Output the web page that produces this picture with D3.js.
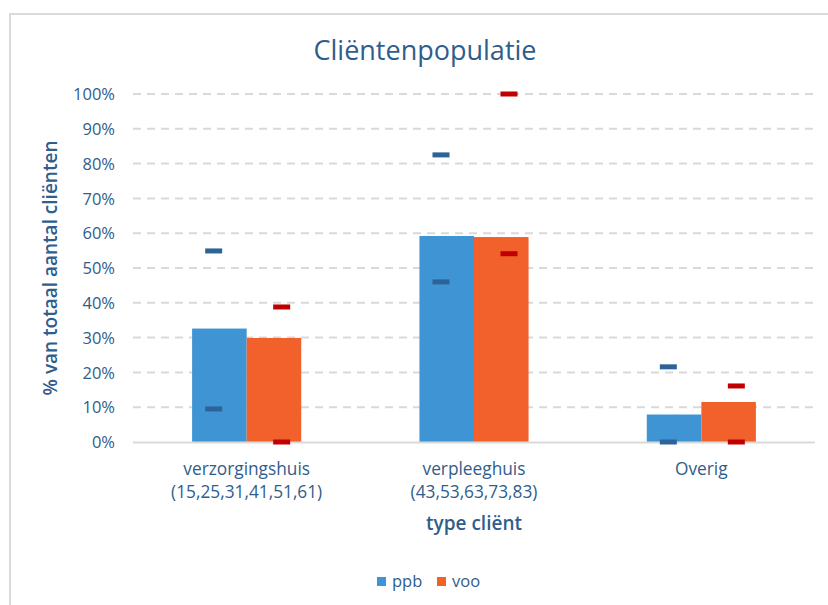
<!DOCTYPE html>
<html><head><meta charset="utf-8">
<script src="https://cdn.jsdelivr.net/npm/d3@7"></script>
<style>body{margin:0;background:#fff;} svg{display:block;} text{font-family:"Open Sans", Lato, sans-serif;}</style>
</head><body>
<svg id="c" width="828" height="605"></svg>
<script>
const categories = ["verzorgingshuis|(15,25,31,41,51,61)", "verpleeghuis|(43,53,63,73,83)", "Overig"];
const seriesNames = ["ppb", "voo"];
const ppbValues = [32.6, 59.2, 7.9];
const vooValues = [29.9, 58.9, 11.5];
const ppbMax = [54.9, 82.5, 21.6];
const ppbMin = [9.5, 46.0, 0];
const vooMax = [38.8, 100, 16.1];
const vooMin = [0, 54.1, 0];
const yTicks = [0,10,20,30,40,50,60,70,80,90,100];

const colors = {ppb:"#3F95D3", voo:"#F2612C"};
const markColors = {ppb:"#2D6396", voo:"#C00000"};
const textColor = "#2F5D8C";

const svg = d3.select("#c");
svg.append("rect").attr("x",10).attr("y",14).attr("width",830).attr("height",620)
  .attr("fill","none").attr("stroke","#d9d9d9").attr("stroke-width",2);

const L=133, R=815, T=94, B=442;
const x = d3.scaleBand().domain(categories).range([L,R]).paddingInner(0.52).paddingOuter(0.26);
const xs = d3.scaleBand().domain(seriesNames).range([0,x.bandwidth()]);
const y = d3.scaleLinear().domain([0,100]).range([B,T]);

// gridlines
svg.append("g").selectAll("line").data(yTicks.filter(d=>d>0)).join("line")
  .attr("x1",L).attr("x2",R).attr("y1",d=>y(d)).attr("y2",d=>y(d))
  .attr("stroke","#d9d9d9").attr("stroke-width",2).attr("stroke-dasharray","8,6");

// y axis labels
const yAxis = d3.axisLeft(y).tickValues(yTicks).tickFormat(d=>d+"%").tickSize(0).tickPadding(0);
const ga = svg.append("g").attr("transform",`translate(115,0)`).call(yAxis);
ga.select(".domain").remove();
ga.selectAll("text").attr("fill",textColor).style("font-size","16.5px").style("font-family","'Open Sans'").attr("dy","0.35em");

const data = categories.map((c,i)=>({c, ppb:ppbValues[i], voo:vooValues[i],
  marks:[{s:"ppb",v:ppbMax[i]},{s:"ppb",v:ppbMin[i]},{s:"voo",v:vooMax[i]},{s:"voo",v:vooMin[i]}]}));

const g = svg.append("g");
data.forEach(d=>{
  seriesNames.forEach(s=>{
    g.append("rect").attr("x",x(d.c)+xs(s)).attr("width",xs.bandwidth())
      .attr("y",y(d[s])).attr("height",B-y(d[s])).attr("fill",colors[s]);
  });
});
// baseline
svg.append("line").attr("x1",L).attr("x2",R).attr("y1",B+0.5).attr("y2",B+0.5)
  .attr("stroke","#d9d9d9").attr("stroke-width",2);

// markers
const off = {ppb:-33, voo:35};
data.forEach(d=>{
  const cx = x(d.c)+x.bandwidth()/2;
  d.marks.forEach(m=>{
    svg.append("rect").attr("x",cx+off[m.s]-8.5).attr("width",17)
      .attr("y",y(m.v)-2.5).attr("height",5).attr("fill",markColors[m.s]);
  });
});

// x labels
data.forEach(d=>{
  const cx = x(d.c)+x.bandwidth()/2;
  const lines = d.c.split("|");
  const t = svg.append("text").attr("x",cx).attr("y",475).attr("text-anchor","middle")
    .attr("fill",textColor).style("font-size","17.3px");
  lines.forEach((ln,k)=>t.append("tspan").attr("x",cx).attr("dy",k?23:0).text(ln));
});

// titles
svg.append("text").attr("x",425).attr("y",60).attr("text-anchor","middle").attr("fill",textColor)
  .style("font-size","27px").text("Cliëntenpopulatie");
svg.append("text").attr("transform",`translate(57,268) rotate(-90)`).attr("text-anchor","middle")
  .attr("fill",textColor).style("font-size","19px").style("font-weight","600").text("% van totaal aantal cliënten");
svg.append("text").attr("x",474).attr("y",530).attr("text-anchor","middle").attr("fill",textColor)
  .style("font-size","19px").style("font-weight","600").text("type cliënt");

// legend
const leg = [{s:"ppb",x:377},{s:"voo",x:437}];
leg.forEach(l=>{
  svg.append("rect").attr("x",l.x).attr("y",577).attr("width",9).attr("height",9).attr("fill",colors[l.s]);
  svg.append("text").attr("x",l.x+15).attr("y",587).attr("fill",textColor).style("font-size","16.5px").text(l.s);
});
</script>
</body></html>
